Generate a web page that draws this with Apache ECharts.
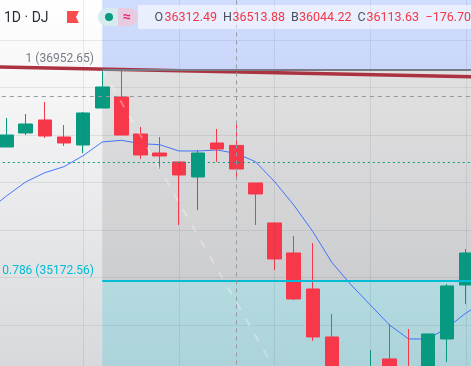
<!DOCTYPE html>
<html><head><meta charset="utf-8">
<style>html,body{margin:0;padding:0;overflow:hidden;background:#fff}#c{width:471px;height:366px}</style>
<script src="https://cdn.jsdelivr.net/npm/echarts@6/dist/echarts.min.js"></script>
</head><body><div id="c"></div>
<script>
const categories = ['-1','0','1','2','3','4','5','6','7','8','9','10','11','12','13','14','15','16','17','18','19','20','21','22','23','24','25'];
const opens  = ['-',36299,36416.9,36526.4,36383.3,36315.9,36627.4,36720.1,36408.5,36248.5,36172.8,36046.5,36332.7,36312.49,35995.9,35659.3,35406.5,35103.4,34699.3,34337.2,34211,34514,34421.4,34253,34682.4,35137.1,'-'];
const closes = ['-',36400,36492.7,36391.7,36332.7,36585.3,36804.3,36400,36231.7,36223.3,36063.3,36248.5,36282.2,36113.63,35903.3,35356,35019.2,34699.3,34379.3,34169,34379.3,34337.2,34253,34724.5,35128.7,35406.5,'-'];
const lows   = ['-',36299,36400,36374.8,36307.5,36248.5,36627.4,36400,36198,36113.8,35642.3,35768.6,36172.8,36044.22,35642.3,35263.4,35010.8,34665.6,34337.2,34127,34169,34295,34211,34211,34488.8,34977.1,'-'];
const highs  = ['-',36543.2,36576.9,36678,36484.3,36593.8,36955.8,36955.8,36467.5,36383.3,36172.8,36273.8,36450.6,36513.88,35995.9,35659.3,35549.7,35490.7,34893,34404.6,34589.8,34808.7,34766.6,34724.5,35145.5,35440.1,'-'];
const maValues = [35760.2,35886.5,36004.4,36082.7,36133.2,36225.8,36341.2,36355.5,36326.8,36318.4,36265.4,36265.4,36273.8,36244.3,36175.3,36006.9,35810.7,35585.9,35324.9,35137.1,34968.7,34800.3,34682.4,34682.4,34775,34901.3,35002.4];
const fibLevels = [36952.65, 35172.56];
const trendEnds = [36975.2, 36888.5];
const diagonalEnds = [36955.8, 34429.8];
const crosshairPrice = 36724.3;
const lastPriceLine = 36170.2;
const crosshairIndex = '12';
const fibStartIndex = '5';
const diagonalEndIndex = '14';
const verticalGridIndices = ['4','9','14','19','24'];
const ohlcText = [
  ['O',154.5,'#4a4e5c'],['36312.49',164.5,'#f23645'],
  ['H',223,'#4a4e5c'],['36513.88',232.5,'#f23645'],
  ['B',291,'#4a4e5c'],['36044.22',299,'#f23645'],
  ['C',357.5,'#4a4e5c'],['36113.63',366.5,'#f23645'],
  ['\u2212176.70',425.5,'#f23645']
];

const last = categories[categories.length-1], first = categories[0];
const candleData = categories.map((c,i)=>[opens[i],closes[i],lows[i],highs[i]]);
const GREEN='#089981', RED='#f7374a', GRIDC='rgba(60,65,80,0.10)';
const chart = echarts.init(document.getElementById('c'),null,{renderer:'canvas'});
const font = 'Roboto';
chart.setOption({
  animation:false,
  backgroundColor:new echarts.graphic.LinearGradient(0,0,0,1,[{offset:0,color:'#ffffff'},{offset:1,color:'#d8d9dc'}]),
  grid:{left:-22.2,top:-7.5,width:517,height:380,containLabel:false,outerBoundsMode:'none'},
  xAxis:{type:'category',data:categories,boundaryGap:true,
    axisLine:{show:false},axisLabel:{show:false},axisTick:{show:false},splitLine:{show:false}},
  yAxis:{type:'value',min:34400,max:37600,interval:400,
    axisLine:{show:false},axisLabel:{show:false},axisTick:{show:false},
    splitLine:{show:true,lineStyle:{color:GRIDC,width:1}}},
  series:[
    {type:'line',name:'fib',data:[],z:1,silent:true,
     markArea:{silent:true,data:[
       [{coord:[fibStartIndex,37600],itemStyle:{color:'rgba(41,98,255,0.22)',opacity:1}},{coord:[last,fibLevels[0]]}],
       [{coord:[fibStartIndex,fibLevels[0]],itemStyle:{color:'rgba(0,0,0,0.09)',opacity:1}},{coord:[last,fibLevels[1]]}],
       [{coord:[fibStartIndex,fibLevels[1]],itemStyle:{color:'rgba(0,188,212,0.2)',opacity:1}},{coord:[last,34400]}]
     ]}},
    {type:'line',name:'vgrid',data:[],z:1,silent:true,
     markLine:{silent:true,symbol:'none',label:{show:false},
       data:verticalGridIndices.map(v=>({xAxis:v,lineStyle:{color:GRIDC,width:1,type:'solid'}}))}},
    {type:'line',name:'lines',data:[],z:2,silent:true,
     markLine:{silent:true,symbol:'none',label:{show:false},data:[
       [{coord:[fibStartIndex,diagonalEnds[0]],lineStyle:{color:'rgba(255,255,255,0.3)',width:2,type:[8,10]}},{coord:[diagonalEndIndex,diagonalEnds[1]]}],
       [{coord:[first,trendEnds[0]],lineStyle:{color:'#ab3240',width:3.5,type:'solid'}},{coord:[last,trendEnds[1]]}],
       [{coord:[fibStartIndex,fibLevels[0]],lineStyle:{color:'#787b86',width:2,type:'solid'}},{coord:[last,fibLevels[0]]}],
       [{coord:[fibStartIndex,fibLevels[1]],lineStyle:{color:'#00bcd4',width:2,type:'solid'}},{coord:[last,fibLevels[1]]}]
     ]}},
    {type:'line',name:'MA',data:maValues,z:3,symbol:'none',smooth:false,silent:true,
     lineStyle:{color:'#2962ff',width:1,opacity:0.85}},
    {type:'candlestick',name:'DJ',data:candleData,z:4,barWidth:14,silent:true,
     itemStyle:{color:GREEN,color0:RED,borderColor:GREEN,borderColor0:RED,borderWidth:1}},
    {type:'line',name:'guides',data:[],z:5,silent:true,
     markLine:{silent:true,symbol:'none',label:{show:false},data:[
       {yAxis:lastPriceLine,lineStyle:{color:GREEN,width:1,type:[2,3]}},
       {yAxis:crosshairPrice,lineStyle:{color:'#9598a1',width:1,type:[4,4]}},
       {xAxis:crosshairIndex,lineStyle:{color:'#9598a1',width:1,type:[4,4]}}
     ]}}
  ],
  graphic:[
    {type:'rect',silent:true,z:10,shape:{x:138,y:5,width:333,height:24},style:{fill:'rgba(255,255,255,0.55)'}},
    {type:'text',silent:true,z:11,x:4,y:18,style:{text:'1D \u00b7 DJ',font:'14px '+font,fill:'#2a2e39',verticalAlign:'middle'}},
    {type:'polygon',silent:true,z:11,shape:{points:[[67,11],[79,11],[76,17],[79,23],[67,23]]},style:{fill:'#f94d4d'}},
    {type:'rect',silent:true,z:11,shape:{x:98,y:8,width:20,height:18,r:[9,0,0,9]},style:{fill:'#d5ebee'}},
    {type:'rect',silent:true,z:11,shape:{x:118,y:8,width:20,height:18,r:[0,9,9,0]},style:{fill:'#e9cbe0'}},
    {type:'circle',silent:true,z:12,shape:{cx:109,cy:17,r:4},style:{fill:GREEN}},
    {type:'text',silent:true,z:12,x:127,y:17,style:{text:'\u2248',font:'bold 14px '+font,fill:'#e0246e',align:'center',verticalAlign:'middle'}},
    {type:'text',silent:true,z:11,x:94,y:59,style:{text:'1 ('+fibLevels[0]+')',font:'12px '+font,fill:'#787b86',align:'right',verticalAlign:'middle'}},
    {type:'text',silent:true,z:11,x:94,y:271,style:{text:'0.786 ('+fibLevels[1]+')',font:'12px '+font,fill:'#00bcd4',align:'right',verticalAlign:'middle'}}
  ].concat(ohlcText.map(t=>({type:'text',silent:true,z:11,x:t[1],y:18,style:{text:t[0],font:'12.5px '+font,fill:t[2],verticalAlign:'middle'}})))
});
</script></body></html>
